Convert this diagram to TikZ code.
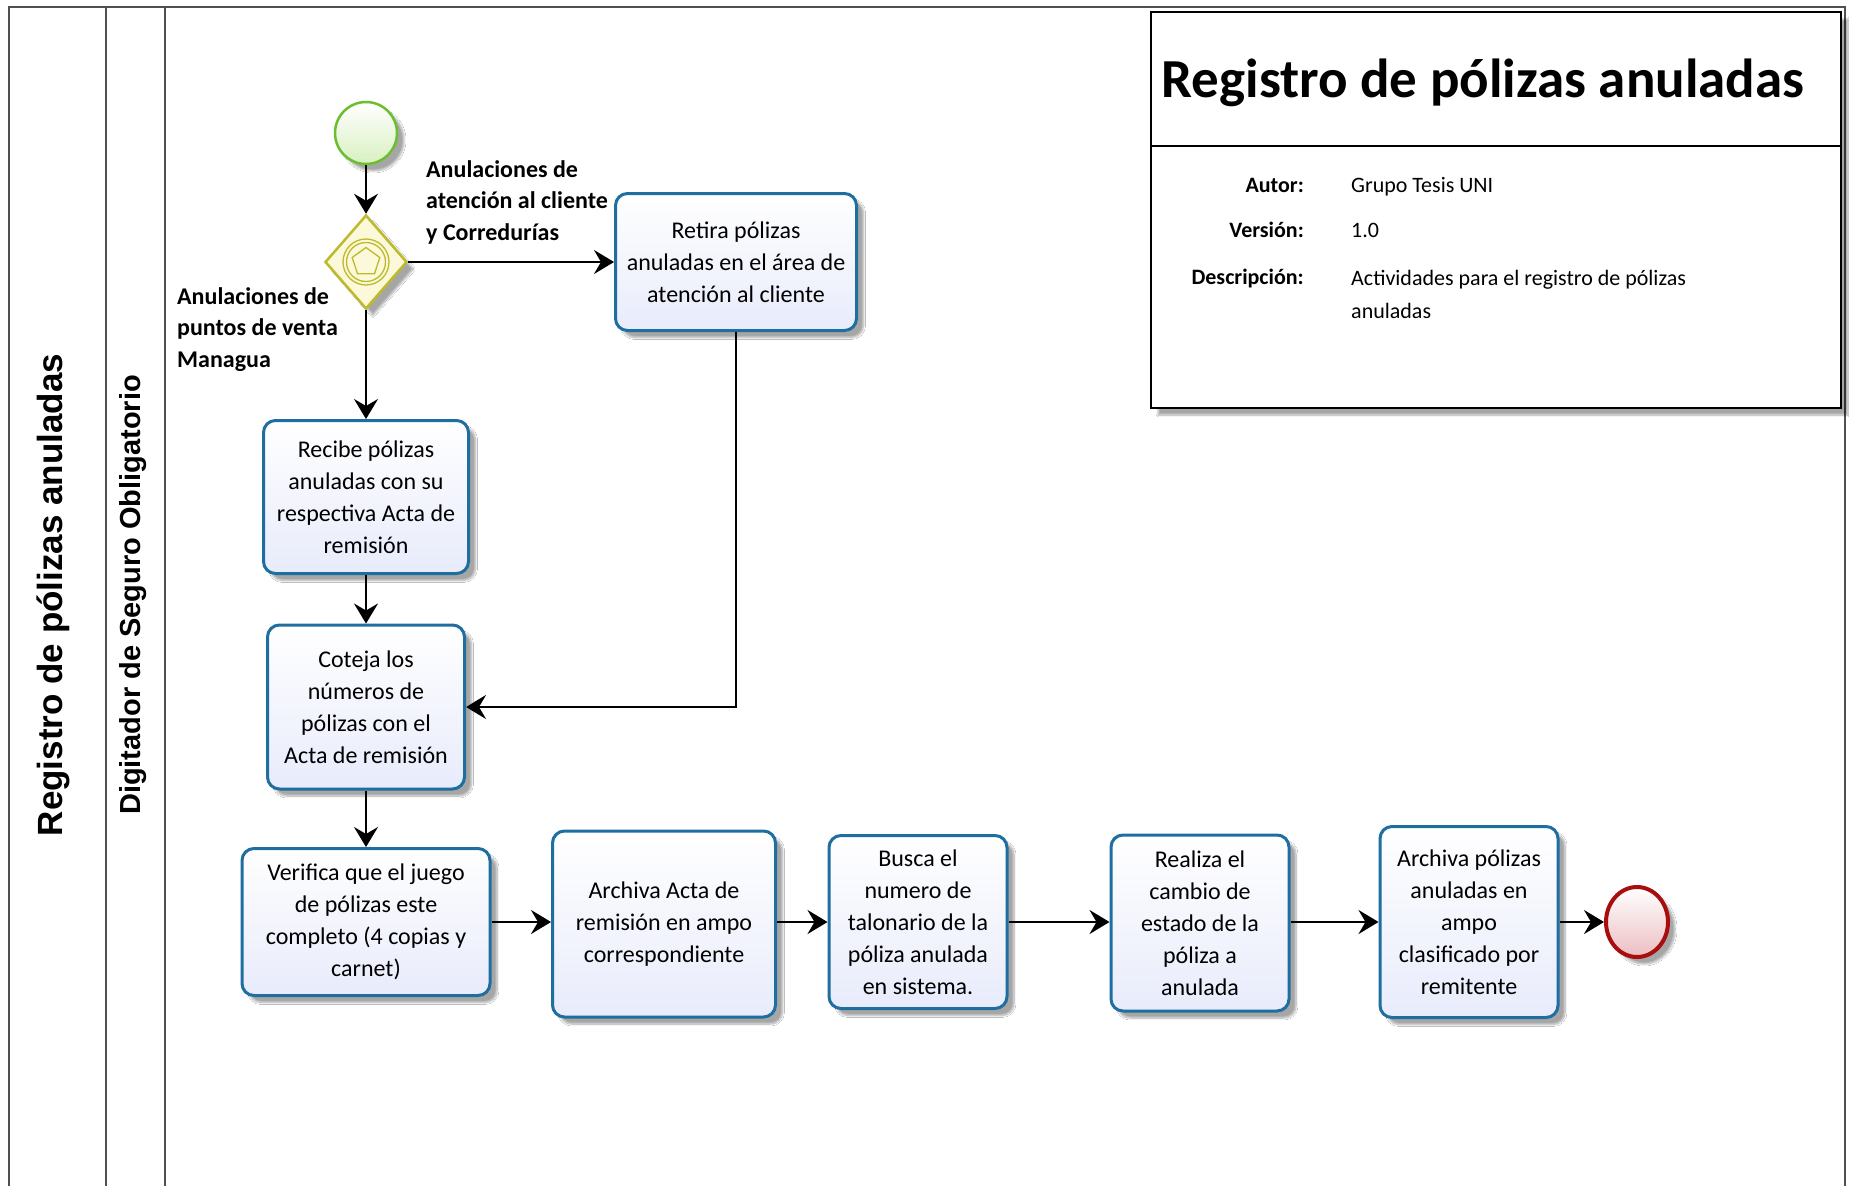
\documentclass[tikz,border=0pt]{standalone}
\usepackage{fontspec}
\setmainfont{Carlito}
\newfontfamily\lanefont{Liberation Sans}
\usetikzlibrary{arrows.meta,shadows.blur,shapes.geometric,calc}

\definecolor{taskline}{RGB}{30,110,160}
\definecolor{taskfill}{RGB}{232,235,251}
\definecolor{startline}{RGB}{108,190,46}
\definecolor{startfill}{RGB}{216,240,192}
\definecolor{gwline}{RGB}{190,186,44}
\definecolor{gwfill}{RGB}{251,249,217}
\definecolor{endline}{RGB}{168,14,14}
\definecolor{endfill}{RGB}{236,190,194}
\definecolor{frameline}{RGB}{80,80,80}

\begin{document}
\begin{tikzpicture}[x=1pt,y=-1pt,
  softshadow/.style={blur shadow={shadow xshift=7pt, shadow yshift=-7pt,
      shadow blur steps=10, shadow opacity=35}},
  task/.style={draw=taskline, line width=3pt, rounded corners=12pt,
      top color=white, bottom color=taskfill, align=center, inner sep=3pt,
      font=\fontsize{24}{32}\selectfont, softshadow},
  flow/.style={draw=black, line width=1.8pt,
      -{Stealth[length=20pt,width=24pt,inset=7pt]}},
  flowshade/.style={draw=black!7, line width=2pt, shift={(8,8)},
      -{Stealth[length=20pt,width=24pt,inset=7pt]}},
  lbl/.style={font=\bfseries\fontsize{24}{31.8}\selectfont, align=left, inner sep=0pt},
  hkey/.style={font=\bfseries\fontsize{22}{26}\selectfont, anchor=base east, inner sep=0pt},
  hval/.style={font=\fontsize{22}{33}\selectfont, inner sep=0pt},
]
\useasboundingbox (0,0) rectangle (1849,1186);
\fill[white] (0,0) rectangle (1849,1186);

% pool and lane frame
\draw[frameline, line width=1.5pt] (9,1186) -- (9,7) -- (1845,7) -- (1845,1186);
\draw[frameline, line width=1.5pt] (106,7) -- (106,1186);
\draw[frameline, line width=1.5pt] (165,7) -- (165,1186);
\node[rotate=90, font=\lanefont\bfseries\fontsize{35}{40}\selectfont] (pool) at (53,595) {Registro de pólizas anuladas};
\node[rotate=90, font=\lanefont\bfseries\fontsize{29}{34}\selectfont] (lane) at (133,595) {Digitador de Seguro Obligatorio};

% header box
\draw[black, line width=1.5pt, fill=white, softshadow] (1151,12) rectangle (1841,408);
\draw[black, line width=1.5pt] (1151,146) -- (1841,146);
\node[font=\bfseries\fontsize{55}{60}\selectfont, anchor=base, inner sep=0pt] (title) at (1483,97) {Registro de pólizas anuladas};
\node[hkey] (kautor) at (1304,192) {Autor:};
\node[hval, anchor=base west] (vautor) at (1351,192) {Grupo Tesis UNI};
\node[hkey] (kversion) at (1304,237) {Versión:};
\node[hval, anchor=base west] (vversion) at (1351,237) {1.0};
\node[hkey] (kdesc) at (1304,284) {Descripción:};
\node[hval, anchor=north west, align=left] (vdesc) at (1351,270) {Actividades para el registro de pólizas\\anuladas};

% events and gateway
\node[circle, draw=startline, line width=2.5pt, top color=white, bottom color=startfill,
      minimum size=62pt, inner sep=0pt, softshadow] (start) at (366,133) {};
\node[diamond, draw=gwline, line width=2.5pt, fill=gwfill, minimum width=82pt,
      minimum height=94pt, inner sep=0pt, softshadow] (gw) at (366,262) {};
\draw[gwline, line width=1.3pt] (gw.center) circle (23pt) (gw.center) circle (19.5pt);
\node[regular polygon, regular polygon sides=5, draw=gwline, line width=1.3pt,
      minimum size=29pt, inner sep=0pt] (gwsym) at (gw.center) {};
\node[ellipse, draw=endline, line width=4pt, top color=white, bottom color=endfill,
      minimum width=62pt, minimum height=70pt, inner sep=0pt, softshadow] (end) at (1637,922) {};

% tasks
\node[task, minimum width=241pt, minimum height=137pt] (retira) at (736,262)
  {Retira pólizas\\anuladas en el área de\\atención al cliente};
\node[task, minimum width=205pt, minimum height=153pt] (recibe) at (366,497)
  {Recibe pólizas\\anuladas con su\\respectiva Acta de\\remisión};
\node[task, minimum width=197pt, minimum height=164pt] (coteja) at (366,707)
  {Coteja los\\números de\\pólizas con el\\Acta de remisión};
\node[task, minimum width=248pt, minimum height=147pt] (verifica) at (366,922)
  {Verifica que el juego\\de pólizas este\\completo (4 copias y\\carnet)};
\node[task, minimum width=223pt, minimum height=186pt] (archacta) at (664,924)
  {Archiva Acta de\\remisión en ampo\\correspondiente};
\node[task, minimum width=178pt, minimum height=173pt] (busca) at (918,922)
  {Busca el\\numero de\\talonario de la\\póliza anulada\\en sistema.};
\node[task, minimum width=178pt, minimum height=176pt] (realiza) at (1200,923)
  {Realiza el\\cambio de\\estado de la\\póliza a\\anulada};
\node[task, minimum width=178pt, minimum height=191pt] (archpol) at (1469,922)
  {Archiva pólizas\\anuladas en\\ampo\\clasificado por\\remitente};

% gateway labels
\node[lbl, anchor=north west] (lab1) at (426,160) {Anulaciones de\\atención al cliente\\y Corredurías};
\node[lbl, anchor=north west] (lab2) at (177,287) {Anulaciones de\\puntos de venta\\Managua};

% faint connector shadows
\draw[flowshade] (start) -- (gw);
\draw[flowshade] (gw) -- (retira);
\draw[flowshade] (gw) -- (recibe);
\draw[flowshade] (recibe) -- (coteja);
\draw[flowshade] (retira.south) |- (coteja.east);
\draw[flowshade] (coteja) -- (verifica);
\draw[flowshade] (verifica.east) -- (verifica.east -| archacta.west);
\draw[flowshade] (verifica.east -| archacta.east) -- (verifica.east -| busca.west);
\draw[flowshade] (busca) -- (busca.center -| realiza.west);
\draw[flowshade] (realiza.east |- busca.center) -- (busca.center -| archpol.west);
\draw[flowshade] (archpol.east |- busca.center) -- (end);

% sequence flows
\draw[flow] (start) -- (gw);
\draw[flow] (gw) -- (retira);
\draw[flow] (gw) -- (recibe);
\draw[flow] (recibe) -- (coteja);
\draw[flow] (retira.south) |- (coteja.east);
\draw[flow] (coteja) -- (verifica);
\draw[flow] (verifica.east) -- (verifica.east -| archacta.west);
\draw[flow] (verifica.east -| archacta.east) -- (verifica.east -| busca.west);
\draw[flow] (busca) -- (busca.center -| realiza.west);
\draw[flow] (realiza.east |- busca.center) -- (busca.center -| archpol.west);
\draw[flow] (archpol.east |- busca.center) -- (end);
\end{tikzpicture}
\end{document}
